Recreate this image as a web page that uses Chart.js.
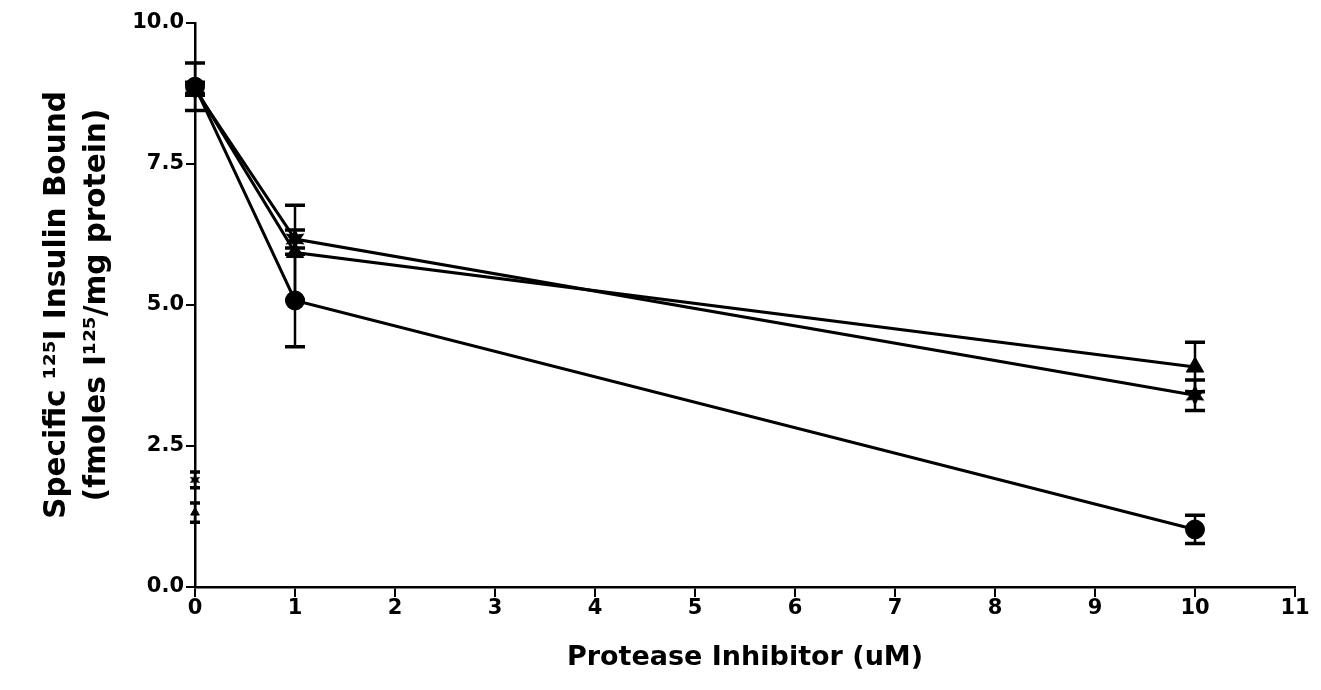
<!DOCTYPE html>
<html><head><meta charset="utf-8">
<script src="https://cdn.jsdelivr.net/npm/chart.js@4/dist/chart.umd.min.js"></script>
<style>html,body{margin:0;padding:0;background:#fff;overflow:hidden;} #wrap{width:1321px;height:690px;position:relative;}</style>
</head><body><div id="wrap"><canvas id="c" width="1321" height="690"></canvas></div>
<script>
// ---- data ----
const xValues = [0, 1, 10];
const circleValues = [8.87, 5.08, 1.02];
const circleErrors = [0.42, 0.82, 0.25];
const triangleValues = [8.85, 5.93, 3.90];
const triangleErrors = [0.10, 0.84, 0.44];
const starValues = [8.82, 6.17, 3.40];
const starErrors = [0.10, 0.16, 0.27];
const baselineX = [0];
const baselineStarValues = [1.90];
const baselineStarErrors = [0.14];
const baselineTriangleValues = [1.32];
const baselineTriangleErrors = [0.17];
const xTickValues = [0, 1, 2, 3, 4, 5, 6, 7, 8, 9, 10, 11];
const yTickValues = [0, 2.5, 5, 7.5, 10];
const xTitle = 'Protease Inhibitor (uM)';
const yTitle = ['Specific \u00B9\u00B2\u2075I Insulin Bound', '(fmoles I\u00B9\u00B2\u2075/mg protein)'];

function pts(xs, ys){ return xs.map((x,i)=>({x:x, y:ys[i]})); }

function makeStar(r, ri){
  const c = document.createElement('canvas');
  c.width = c.height = Math.ceil(r*2+2);
  const g = c.getContext('2d');
  const cx = c.width/2, cy = c.height/2;
  g.fillStyle = '#000';
  g.beginPath();
  const n = 6;
  for (let i=0;i<n*2;i++){
    const rad = i%2===0 ? r : ri;
    const a = -Math.PI/2 + i*Math.PI/n;
    const px = cx + rad*Math.cos(a), py = cy + rad*Math.sin(a);
    if(i===0) g.moveTo(px,py); else g.lineTo(px,py);
  }
  g.closePath(); g.fill();
  return c;
}
const starBig = makeStar(11, 5.5);
const starSmall = makeStar(6, 3);

const errorBars = {
  id: 'errorBars',
  beforeDatasetsDraw(chart){
    const ctx = chart.ctx, xs = chart.scales.x, ys = chart.scales.y;
    ctx.save();
    ctx.strokeStyle = '#000';
    chart.data.datasets.forEach(ds => {
      if(!ds.errors) return;
      const w = ds.capHalf || 9;
      ds.data.forEach((p,i) => {
        const e = ds.errors[i];
        const px = xs.getPixelForValue(p.x);
        const yt = ys.getPixelForValue(p.y + e), yb = ys.getPixelForValue(p.y - e);
        ctx.lineWidth = 2.5;
        ctx.beginPath(); ctx.moveTo(px, yt); ctx.lineTo(px, yb); ctx.stroke();
        ctx.lineWidth = 3.5;
        ctx.beginPath();
        ctx.moveTo(px-w, yt); ctx.lineTo(px+w, yt);
        ctx.moveTo(px-w, yb); ctx.lineTo(px+w, yb);
        ctx.stroke();
      });
    });
    ctx.restore();
  }
};

const font = 'DejaVu Sans';
const lineDs = (data, errors, style, r) => ({
  data, errors, pointStyle: style, pointRadius: r, pointHoverRadius: r,
  borderColor:'#000', backgroundColor:'#000', pointBackgroundColor:'#000', pointBorderColor:'#000',
  borderWidth: 3, pointBorderWidth: 1, showLine: true, tension: 0, clip: false, capHalf: 10
});

new Chart(document.getElementById('c'), {
  type: 'scatter',
  data: {
    datasets: [
      lineDs(pts(xValues, circleValues), circleErrors, 'circle', 9.5),
      lineDs(pts(xValues, triangleValues), triangleErrors, 'triangle', 10),
      lineDs(pts(xValues, starValues), starErrors, starBig, 11),
      Object.assign(lineDs(pts(baselineX, baselineStarValues), baselineStarErrors, starSmall, 6), {showLine:false, capHalf:5}),
      Object.assign(lineDs(pts(baselineX, baselineTriangleValues), baselineTriangleErrors, 'triangle', 5), {showLine:false, capHalf:5})
    ]
  },
  options: {
    responsive: false, animation: false, devicePixelRatio: 1,
    layout: { padding: { left: 0, right: 26, top: 23, bottom: 0 } },
    plugins: { legend: { display: false }, tooltip: { enabled: false } },
    scales: {
      x: {
        type: 'linear', min: 0, max: 11,
        afterBuildTicks: s => { s.ticks = xTickValues.map(v => ({ value: v })); },
        afterFit: s => { s.height = 103; },
        grid: { drawOnChartArea: false, drawTicks: true, tickLength: 10, color: '#000', lineWidth: 2 },
        border: { display: true, color: '#000', width: 2.5 },
        ticks: { color: '#000', font: { family: font, weight: 'bold', size: 21 }, padding: -1, maxRotation: 0, autoSkip: false },
        title: { display: true, text: xTitle, color: '#000', font: { family: font, weight: 'bold', size: 27, lineHeight: 1.2 }, padding: { top: 0, bottom: 16 } }
      },
      y: {
        type: 'linear', min: 0, max: 10,
        afterBuildTicks: s => { s.ticks = yTickValues.map(v => ({ value: v })); },
        afterFit: s => { s.width = 195; },
        grid: { drawOnChartArea: false, drawTicks: true, tickLength: 9, color: '#000', lineWidth: 2 },
        border: { display: true, color: '#000', width: 2.5 },
        ticks: { color: '#000', font: { family: font, weight: 'bold', size: 21 }, padding: 2, callback: v => Number(v).toFixed(1) },
        title: { display: true, text: yTitle, color: '#000', font: { family: font, weight: 'bold', size: 29.5, lineHeight: 1.33 }, padding: { top: 38, bottom: 0 } }
      }
    }
  },
  plugins: [errorBars]
});
</script>
</body></html>
